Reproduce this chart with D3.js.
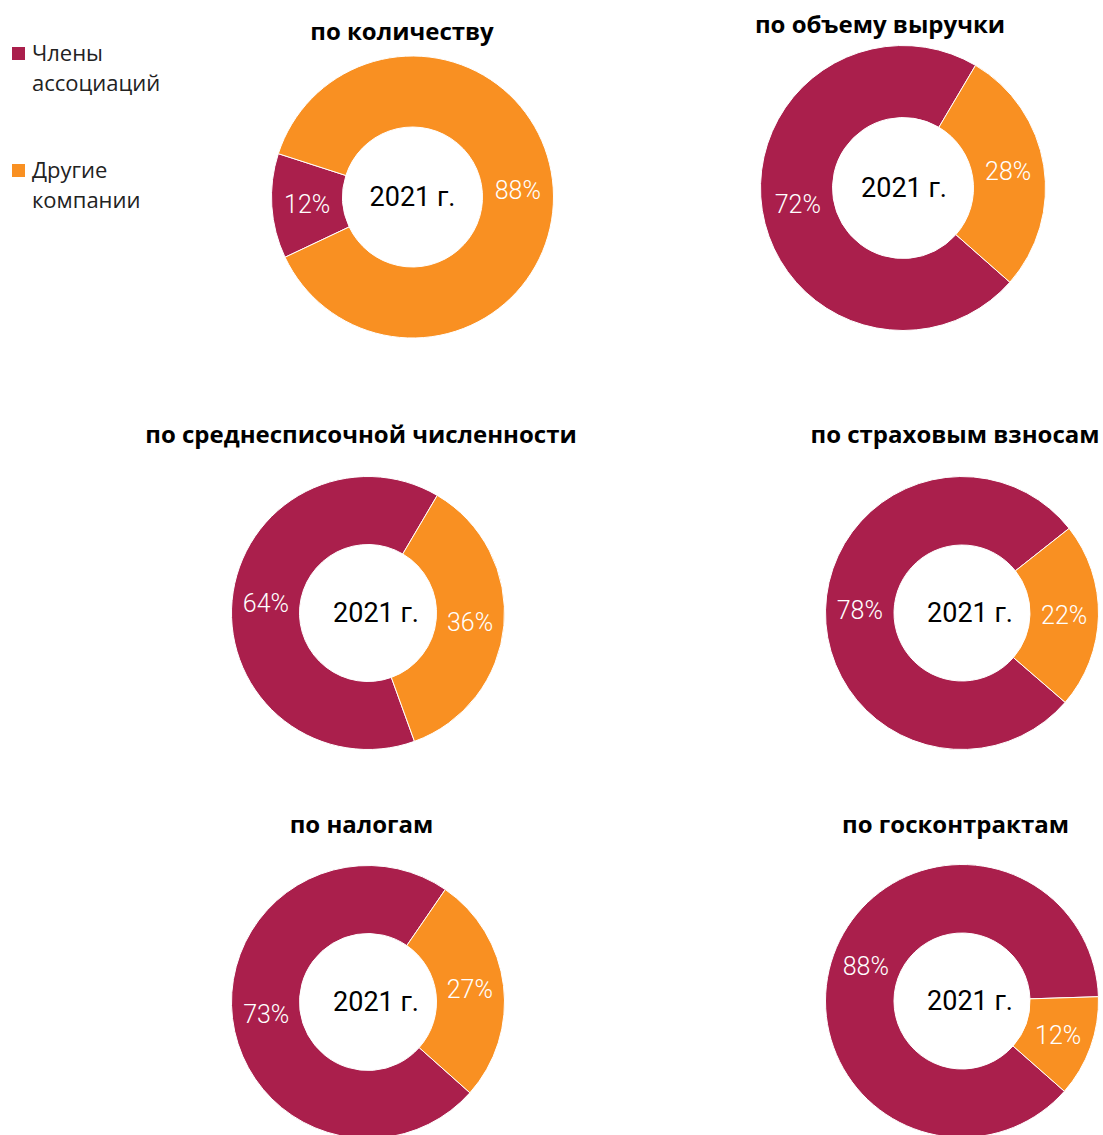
<!DOCTYPE html>
<html>
<head>
<meta charset="utf-8">
<script src="https://cdn.jsdelivr.net/npm/d3@7"></script>
<style>
  html, body { margin: 0; padding: 0; background: #fff; }
  svg { display: block; }
</style>
</head>
<body>
<div id="chart"></div>
<script>
// data
const titles = ['по количеству', 'по объему выручки', 'по среднесписочной численности',
  'по страховым взносам', 'по налогам', 'по госконтрактам'];
const members = [12, 72, 64, 78, 73, 88];
const others = [88, 28, 36, 22, 27, 12];
const seriesNames = [['Члены', 'ассоциаций'], ['Другие', 'компании']];
const yearLabel = '2021 г.';

const colors = ['#AA1F4C', '#F99022'];

// layout of each donut (centre, radii, first slice angle in degrees, title position)
const layout = [
  {cx: 412.5, cy: 197, outer: 141, inner: 70, start: 244.7, tx: 402, ty: 40, dx: 0},
  {cx: 903, cy: 188, outer: 142.5, inner: 70.5, start: 131.4, tx: 880, ty: 33, dx: 1},
  {cx: 368, cy: 613, outer: 136.5, inner: 68.5, start: 160.1, tx: 361, ty: 443, dx: 8},
  {cx: 962, cy: 613, outer: 136.5, inner: 68, start: 130.9, tx: 955, ty: 443, dx: 8},
  {cx: 368, cy: 1002, outer: 136.5, inner: 68.5, start: 131.7, tx: 361.5, ty: 833, dx: 8},
  {cx: 962, cy: 1001, outer: 136.5, inner: 68, start: 131.4, tx: 955.5, ty: 833, dx: 8}
];

const width = 1103, height = 1135;
const rad = Math.PI / 180;

const svg = d3.select('#chart').append('svg')
  .attr('width', width)
  .attr('height', height);

const pie = d3.pie().sort(null).value(d => d.value);

titles.forEach((title, i) => {
  const l = layout[i];
  const data = [
    {key: 0, value: members[i]},
    {key: 1, value: others[i]}
  ];
  pie.startAngle(l.start * rad).endAngle(l.start * rad + 2 * Math.PI);
  const arc = d3.arc().innerRadius(l.inner).outerRadius(l.outer);

  svg.append('text')
    .attr('x', l.tx)
    .attr('y', l.ty)
    .attr('text-anchor', 'middle')
    .attr('font-family', '"Open Sans", sans-serif')
    .attr('font-weight', 700)
    .attr('font-size', 24)
    .attr('fill', '#000')
    .text(title);

  const g = svg.append('g')
    .attr('transform', `translate(${l.cx},${l.cy})`);

  const arcs = pie(data);

  g.selectAll('path')
    .data(arcs)
    .enter()
    .append('path')
    .attr('d', arc)
    .attr('fill', d => colors[d.data.key])
    .attr('stroke', '#fff')
    .attr('stroke-width', 1);

  g.selectAll('text.value')
    .data(arcs)
    .enter()
    .append('text')
    .attr('class', 'value')
    .attr('transform', d => `translate(${arc.centroid(d)})`)
    .attr('dy', '0.35em')
    .attr('text-anchor', 'middle')
    .attr('font-family', 'Roboto, sans-serif')
    .attr('font-weight', 300)
    .attr('font-size', 25)
    .attr('fill', '#fff')
    .text(d => d.data.value + '%');

  g.append('text')
    .attr('x', l.dx)
    .attr('dy', '0.35em')
    .attr('text-anchor', 'middle')
    .attr('font-family', 'Roboto, sans-serif')
    .attr('font-size', 27)
    .attr('fill', '#000')
    .text(yearLabel);
});

// legend
const legend = svg.append('g')
  .selectAll('g')
  .data(seriesNames)
  .enter()
  .append('g')
  .attr('transform', (d, i) => `translate(12,${i ? 164 : 47})`);

legend.append('rect')
  .attr('width', 13)
  .attr('height', 13)
  .attr('fill', (d, i) => colors[i]);

legend.append('text')
  .attr('x', 20)
  .attr('y', 14)
  .attr('font-family', '"Open Sans", sans-serif')
  .attr('font-size', 22)
  .attr('fill', '#222')
  .selectAll('tspan')
  .data(d => d)
  .enter()
  .append('tspan')
  .attr('x', 20)
  .attr('dy', (d, i) => i ? 30 : 0)
  .text(d => d);
</script>
</body>
</html>
